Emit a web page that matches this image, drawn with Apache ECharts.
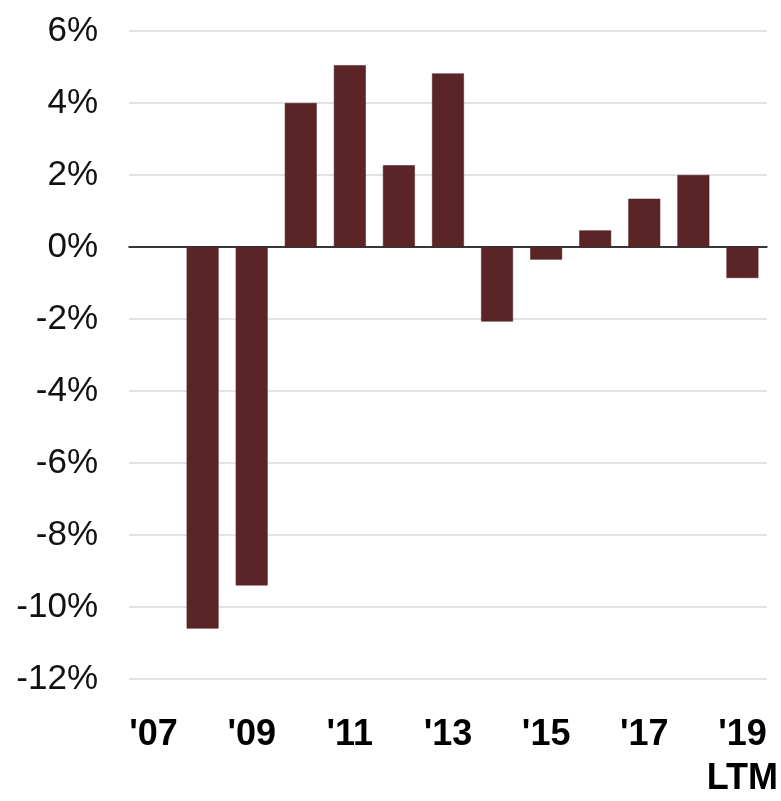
<!DOCTYPE html>
<html>
<head>
<meta charset="utf-8">
<script src="https://cdn.jsdelivr.net/npm/echarts@6/dist/echarts.min.js"></script>
<style>html,body{margin:0;padding:0;background:#fff;}#c{width:781px;height:801px;}</style>
</head>
<body>
<div id="c"></div>
<script>
const categories = ["'07","'08","'09","'10","'11","'12","'13","'14","'15","'16","'17","'18","'19\nLTM"];
const values = [null, -10.6, -9.4, 4.0, 5.05, 2.27, 4.82, -2.07, -0.35, 0.46, 1.34, 2.0, -0.86];
const yTicks = { min: -12, max: 6, interval: 2 };

const chart = echarts.init(document.getElementById('c'));
chart.setOption({
  animation: false,
  backgroundColor: '#fff',
  grid: { left: 129, right: 12, top: 31, bottom: 118, containLabel: false },
  xAxis: {
    type: 'category',
    data: categories,
    axisLine: { show: true, onZero: true, lineStyle: { color: '#000', width: 1.5 } },
    axisTick: { show: false },
    axisLabel: {
      interval: 1,
      margin: 34,
      color: '#000',
      fontFamily: "'Liberation Sans', Arial, sans-serif",
      fontWeight: 'bold',
      fontSize: 36,
      lineHeight: 44
    }
  },
  yAxis: {
    type: 'value',
    min: yTicks.min, max: yTicks.max, interval: yTicks.interval,
    axisLine: { show: false },
    axisTick: { show: false },
    splitLine: { show: true, lineStyle: { color: '#d9d9d9', width: 1.5 } },
    axisLabel: {
      margin: 31,
      color: '#111',
      fontFamily: "'Liberation Sans', Arial, sans-serif",
      fontSize: 35,
      formatter: v => v + '%'
    }
  },
  series: [{
    type: 'bar',
    data: values,
    barCategoryGap: '35%',
    itemStyle: { color: '#5b2528', borderColor: '#4a1c1f', borderWidth: 0.5 }
  }]
});
</script>
</body>
</html>
